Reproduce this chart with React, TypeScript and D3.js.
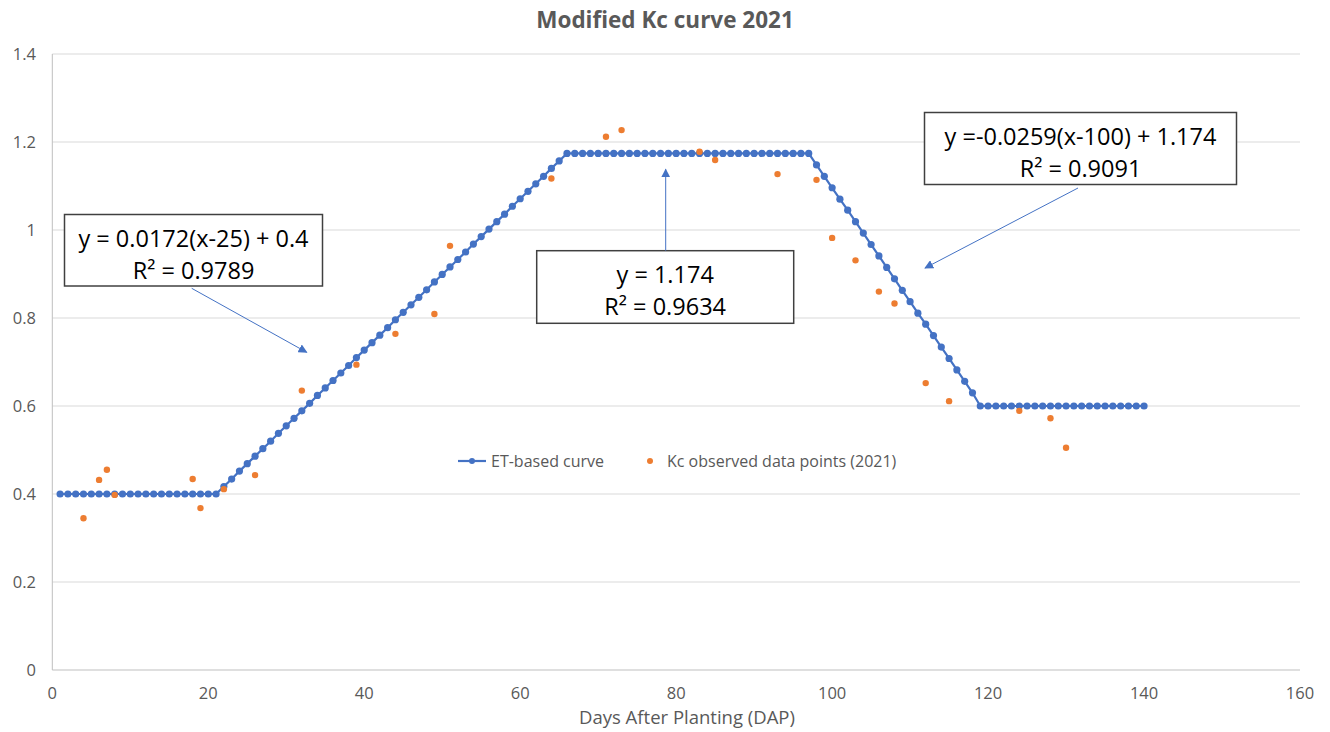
import React from "react";
import * as d3 from "d3";

const etDays: number[] = d3.range(1, 141);
const etValues: number[] = [
  0.4, 0.4, 0.4, 0.4, 0.4, 0.4, 0.4, 0.4, 0.4, 0.4,
  0.4, 0.4, 0.4, 0.4, 0.4, 0.4, 0.4, 0.4, 0.4, 0.4,
  0.4,
  0.417, 0.434, 0.452, 0.469, 0.486, 0.503, 0.52, 0.538, 0.555, 0.572,
  0.589, 0.606, 0.624, 0.641, 0.658, 0.675, 0.692, 0.71, 0.727, 0.744,
  0.761, 0.778, 0.796, 0.813, 0.83, 0.847, 0.864, 0.882, 0.899, 0.916,
  0.933, 0.95, 0.968, 0.985, 1.002, 1.019, 1.036, 1.054, 1.071, 1.088,
  1.105, 1.122, 1.14, 1.157, 1.174,
  1.174, 1.174, 1.174, 1.174, 1.174, 1.174, 1.174, 1.174, 1.174, 1.174,
  1.174, 1.174, 1.174, 1.174, 1.174, 1.174, 1.174, 1.174, 1.174, 1.174,
  1.174, 1.174, 1.174, 1.174, 1.174, 1.174, 1.174, 1.174, 1.174, 1.174,
  1.174,
  1.148, 1.122, 1.096, 1.07, 1.045, 1.019, 0.993, 0.967, 0.941, 0.915,
  0.889, 0.863, 0.837, 0.811, 0.786, 0.76, 0.734, 0.708, 0.682, 0.656,
  0.63,
  0.6, 0.6, 0.6, 0.6, 0.6, 0.6, 0.6, 0.6, 0.6, 0.6,
  0.6, 0.6, 0.6, 0.6, 0.6, 0.6, 0.6, 0.6, 0.6, 0.6,
  0.6, 0.6,
];

const obsDays: number[] = [4, 6, 7, 8, 18, 19, 22, 26, 32, 39, 44, 49, 51, 64, 71, 73, 83, 85, 93, 98, 100, 103, 106, 108, 112, 115, 124, 128, 130];
const obsValues: number[] = [0.345, 0.432, 0.455, 0.398, 0.434, 0.368, 0.411, 0.443, 0.635, 0.694, 0.764, 0.809, 0.964, 1.117, 1.212, 1.227, 1.178, 1.159, 1.127, 1.114, 0.982, 0.931, 0.86, 0.833, 0.652, 0.611, 0.589, 0.572, 0.505];

const xTicks: number[] = [0, 20, 40, 60, 80, 100, 120, 140, 160];
const yTicks: number[] = [0, 0.2, 0.4, 0.6, 0.8, 1, 1.2, 1.4];

const BLUE = "#4472C4";
const ORANGE = "#ED7D31";
const GRAY = "#595959";
const FONT = "'Open Sans', Lato, sans-serif";

export default function App() {
  const W = 1330, H = 732;
  const x = d3.scaleLinear().domain([0, 160]).range([52.3, 1300]);
  const y = d3.scaleLinear().domain([0, 1.4]).range([670, 54]);
  const line = d3.line<number>().x((_, i) => x(etDays[i])).y((v) => y(v));

  const boxes = [
    { x0: 64.5, y0: 214.5, x1: 322.5, y1: 286, l1: "y = 0.0172(x-25) + 0.4", l2: "R² = 0.9789", ax0: 191.7, ay0: 288.3, ax1: 306.7, ay1: 352.3 },
    { x0: 536.7, y0: 250.7, x1: 793.7, y1: 323.3, l1: "y = 1.174", l2: "R² = 0.9634", ax0: 665.7, ay0: 250.7, ax1: 665.7, ay1: 169.3 },
    { x0: 924.5, y0: 112.5, x1: 1236.5, y1: 184.5, l1: "y =-0.0259(x-100) + 1.174", l2: "R² = 0.9091", ax0: 1078, ay0: 188, ax1: 925, ay1: 268 },
  ];

  return (
    <svg width={W} height={H} style={{ position: "absolute", left: 0, top: 0, background: "#fff" }} fontFamily={FONT}>
      <defs>
        <marker id="arr" viewBox="0 0 10 10" refX="9" refY="5" markerWidth="9" markerHeight="9" markerUnits="userSpaceOnUse" orient="auto">
          <path d="M0,0 L10,5 L0,10 z" fill={BLUE} />
        </marker>
      </defs>
      <rect x={0} y={0} width={W} height={H} fill="#fff" />
      <text x={665} y={28} textAnchor="middle" fontSize={22.5} fontWeight="bold" fill={GRAY}>Modified Kc curve 2021</text>

      {yTicks.map((t) => (
        <g key={t}>
          <line x1={x(0)} x2={x(160)} y1={y(t)} y2={y(t)} stroke={t === 0 ? "#bfbfbf" : "#d9d9d9"} strokeWidth={1} />
          <text x={36} y={y(t) + 6} textAnchor="end" fontSize={16.5} fill={GRAY}>{t === 0 || t === 1 ? String(t) : t.toFixed(1)}</text>
        </g>
      ))}
      <line x1={x(0)} x2={x(0)} y1={y(1.4)} y2={y(0)} stroke="#bfbfbf" strokeWidth={1} />
      {xTicks.map((t) => (
        <text key={t} x={x(t)} y={699} textAnchor="middle" fontSize={16.5} fill={GRAY}>{t}</text>
      ))}
      <text x={687} y={724} textAnchor="middle" fontSize={18.5} fill={GRAY}>Days After Planting (DAP)</text>

      <path d={line(etValues) || ""} fill="none" stroke={BLUE} strokeWidth={2.2} />
      {etValues.map((v, i) => (
        <circle key={i} cx={x(etDays[i])} cy={y(v)} r={3.6} fill={BLUE} />
      ))}
      {obsValues.map((v, i) => (
        <circle key={i} cx={x(obsDays[i])} cy={y(v)} r={3.2} fill={ORANGE} />
      ))}

      {boxes.map((b, i) => (
        <g key={i}>
          <rect x={b.x0} y={b.y0} width={b.x1 - b.x0} height={b.y1 - b.y0} fill="#fff" stroke="#404040" strokeWidth={1.5} />
          <text x={(b.x0 + b.x1) / 2} y={b.y0 + 32} textAnchor="middle" fontSize={23.5} fill="#000">{b.l1}</text>
          <text x={(b.x0 + b.x1) / 2} y={b.y0 + 64} textAnchor="middle" fontSize={23.5} fill="#000">{b.l2}</text>
          <line x1={b.ax0} y1={b.ay0} x2={b.ax1} y2={b.ay1} stroke={BLUE} strokeWidth={1} markerEnd="url(#arr)" />
        </g>
      ))}

      <g>
        <line x1={458} x2={486} y1={461} y2={461} stroke={BLUE} strokeWidth={2.2} />
        <circle cx={472} cy={461} r={3} fill={BLUE} />
        <text x={491} y={467} fontSize={16} fill={GRAY}>ET-based curve</text>
        <circle cx={650} cy={461} r={3} fill={ORANGE} />
        <text x={667} y={467} fontSize={16} fill={GRAY}>Kc observed data points (2021)</text>
      </g>
    </svg>
  );
}
